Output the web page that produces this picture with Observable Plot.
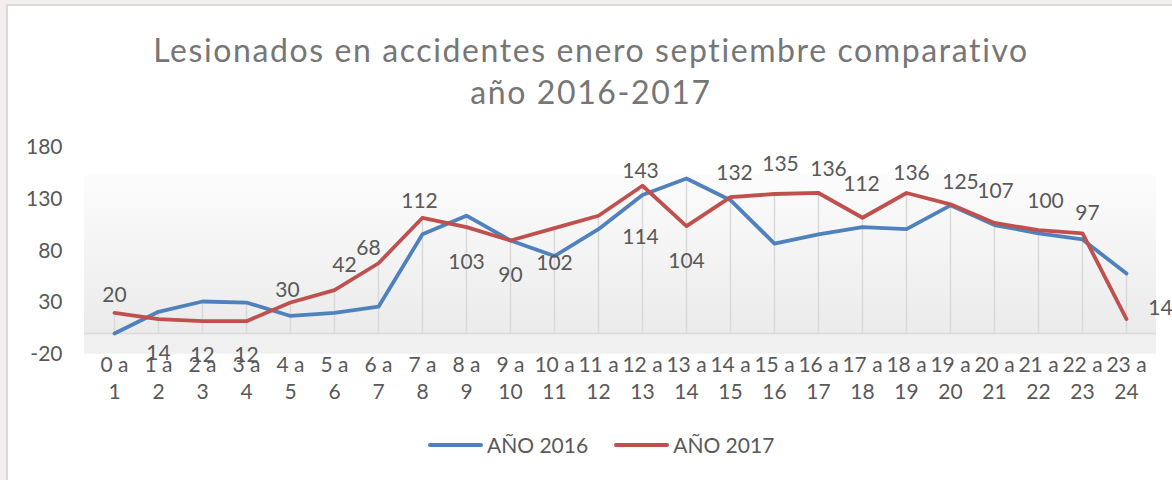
<!DOCTYPE html>
<html>
<head>
<meta charset="utf-8">
<script src="https://cdn.jsdelivr.net/npm/d3@7"></script>
<script src="https://cdn.jsdelivr.net/npm/@observablehq/plot@0.6"></script>
<style>
  html, body { margin: 0; padding: 0; }
  body { width: 1172px; height: 480px; overflow: hidden; background: #f4efef; position: relative; font-family: Lato, "Open Sans", sans-serif; }
  #card { position: absolute; left: 6px; top: 4px; width: 1180px; height: 490px; background: #ffffff; border-left: 2px solid #d9d9d9; border-top: 2px solid #d9d9d9; }
  #title { position: absolute; left: 0; top: 29px; width: 1182px; text-align: center; font-size: 32px; letter-spacing: 1.6px; line-height: 42px; color: #767676; }
  #chart { position: absolute; left: 0; top: 120px; }
  #legend { position: absolute; left: 428px; top: 430px; display: flex; align-items: center; font-size: 21px; line-height: 30px; color: #595959; }
  .item { display: flex; align-items: center; margin-right: 26px; }
  .sw { width: 55px; height: 4px; border-radius: 2px; margin-right: 4px; }
</style>
</head>
<body>
<div id="card"></div>
<div id="title">Lesionados en accidentes enero septiembre comparativo<br>año 2016-2017</div>
<div id="chart"></div>
<div id="legend"></div>
<script>
// ---- data ----
const categories = ["0 a 1","1 a 2","2 a 3","3 a 4","4 a 5","5 a 6","6 a 7","7 a 8","8 a 9","9 a 10","10 a 11","11 a 12",
  "12 a 13","13 a 14","14 a 15","15 a 16","16 a 17","17 a 18","18 a 19","19 a 20","20 a 21","21 a 22","22 a 23","23 a 24"];
const values2016 = [0,21,31,30,17,20,26,96,114,90,75,101,134,150,129,87,96,103,101,124,105,97,91,58];
const values2017 = [20,14,12,12,30,42,68,112,103,90,102,114,143,104,132,135,136,112,136,125,107,100,97,14];
const seriesNames = ["AÑO 2016", "AÑO 2017"];
const yTicks = [-20, 30, 80, 130, 180];

// ---- style / placement options ----
const seriesColors = ["#4f81bd", "#c0504d"];
const yDomain = [-20, 180];
const bgTopValue = 153;
// per-label offsets [dx, dy] in pixels for the 2017 data labels
const labelOffsets = [[0,-18],[0,34],[0,34],[0,34],[-3,-12],[10,-25],[-10,-15],[-3,-17],[0,35],[0,35],[0,35],[42,22],
  [-2,-14],[0,35],[4,-24],[6,-30],[10,-24],[-1,-34],[5,-20],[10,-22],[1,-32],[7,-29],[5,-20],[34,-11]];

const rows = [];
categories.forEach((c, i) => rows.push({cat: c, v: values2016[i], s: seriesNames[0]}));
categories.forEach((c, i) => rows.push({cat: c, v: values2017[i], s: seriesNames[1]}));
const drops = categories.map((c, i) => ({cat: c, top: Math.max(values2016[i], values2017[i])}));
const labels2017 = categories.map((c, i) => ({cat: c, v: values2017[i]}));

const labelMarks = labels2017.map((d, i) => Plot.text([d], {
  x: "cat", y: "v", text: d => String(d.v),
  dx: labelOffsets[i][0], dy: labelOffsets[i][1],
  fill: "#595959", fontSize: 21
}));

const chart = Plot.plot({
  width: 1172,
  height: 300,
  marginLeft: 84,
  marginRight: 16,
  marginTop: 27,
  marginBottom: 66.3,
  style: {fontFamily: "Lato, 'Open Sans', sans-serif", fontSize: "21px", color: "#595959", background: "transparent", overflow: "visible"},
  x: {type: "point", domain: categories, padding: 0.5, label: null},
  y: {domain: yDomain, label: null},
  color: {domain: seriesNames, range: seriesColors},
  marks: [
    Plot.rect([{}], {y1: yDomain[0], y2: 0, fill: "#f0f0f0"}),
    Plot.rect([{}], {y1: 0, y2: bgTopValue, fill: "url(#bgGrad)"}),
    Plot.ruleX(drops, {x: "cat", y1: 0, y2: "top", stroke: "#d9d9d9", strokeWidth: 1.5}),
    Plot.ruleY([0], {stroke: "#d9d9d9", strokeWidth: 1.5}),
    Plot.axisY({ticks: yTicks, tickSize: 0, tickPadding: 22, fontSize: 21, fill: "#595959", tickFormat: d => String(d)}),
    Plot.axisX({tickSize: 0, tickPadding: -2, fontSize: 21, fill: "#595959", lineHeight: 1.3,
      tickFormat: d => d.replace(/ (\d+)$/, "\n$1")}),
    Plot.line(rows, {x: "cat", y: "v", z: "s", stroke: "s", strokeWidth: 3.8, strokeLinecap: "round", strokeLinejoin: "round"}),
    ...labelMarks
  ]
});

// gradient definition for the plot-area background
const ns = "http://www.w3.org/2000/svg";
const defs = document.createElementNS(ns, "defs");
const grad = document.createElementNS(ns, "linearGradient");
grad.setAttribute("id", "bgGrad");
grad.setAttribute("x1", "0"); grad.setAttribute("y1", "0");
grad.setAttribute("x2", "0"); grad.setAttribute("y2", "1");
[["0", "#fcfcfc"], ["1", "#ebebeb"]].forEach(([o, c]) => {
  const st = document.createElementNS(ns, "stop");
  st.setAttribute("offset", o); st.setAttribute("stop-color", c);
  grad.appendChild(st);
});
defs.appendChild(grad);
chart.insertBefore(defs, chart.firstChild);
document.getElementById("chart").appendChild(chart);

// legend
const legend = document.getElementById("legend");
seriesNames.forEach((name, i) => {
  const item = document.createElement("div");
  item.className = "item";
  const sw = document.createElement("div");
  sw.className = "sw";
  sw.style.background = seriesColors[i];
  const tx = document.createElement("span");
  tx.textContent = name;
  item.appendChild(sw); item.appendChild(tx);
  legend.appendChild(item);
});
</script>
</body>
</html>
